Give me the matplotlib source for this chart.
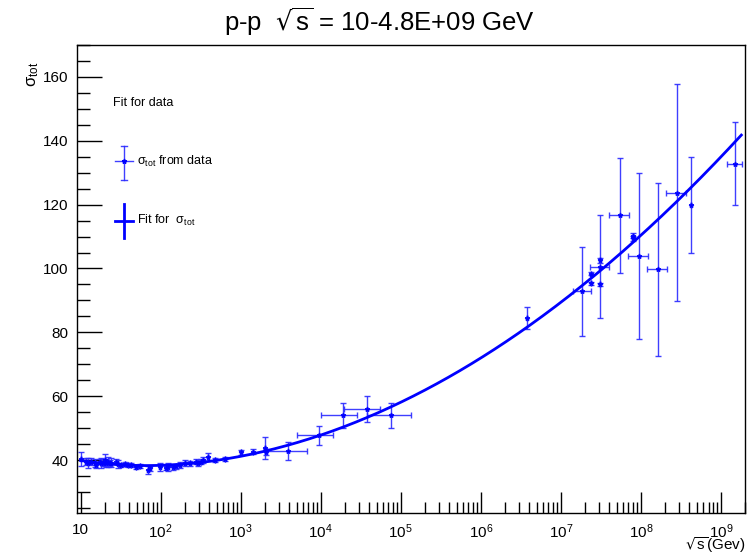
import numpy as np
import matplotlib
matplotlib.use("Agg")
import matplotlib.pyplot as plt
from matplotlib.lines import Line2D
from matplotlib.ticker import FixedLocator, FixedFormatter, MultipleLocator, NullFormatter

# p-p total cross section vs sqrt(s) (GeV)
sqrt_s = [10.0, 11.8, 12.4, 13.6, 15.0, 15.7, 17.3, 18.1, 19.0, 20.0, 20.9, 22.0,
          23.0, 24.2, 27.9, 29.3, 32.2, 35.5, 39.1, 43.0, 49.6, 54.6, 69.5, 72.9,
          97.2, 117.8, 123.5, 142.6, 157.0, 172.8, 199.5, 230.0, 279.0, 293.0,
          322.0, 338.0, 391.0, 473.0, 631.0, 1020.0, 1425.0, 2000.0, 2090.0,
          3870.0, 9441.0, 1.88e4, 3.76e4, 7.5e4, 3.76e6,
          1.83e7, 2.37e7, 2.37e7, 3.07e7, 3.07e7, 3.07e7, 5.47e7, 7.94e7, 7.94e7,
          9.44e7, 1.63e8, 2.82e8, 4.2e8, 1.5e9]
sigma_tot = [40.2, 39.5, 39.0, 39.5, 39.0, 38.4, 39.5, 39.0, 39.2, 40.0, 39.0, 39.3,
             39.0, 39.2, 39.5, 38.7, 38.4, 38.7, 38.4, 38.4, 37.9, 38.2, 36.9, 37.4,
             37.9, 37.4, 37.9, 37.9, 38.1, 38.4, 39.0, 39.0, 39.5, 39.0,
             39.5, 40.0, 41.0, 40.0, 40.2, 42.4, 42.6, 43.8, 42.5,
             42.8, 47.8, 54.0, 55.9, 54.0, 84.5,
             92.8, 98.4, 95.3, 100.6, 102.5, 95.0, 116.6, 110.3, 109.4,
             103.75, 99.7, 123.75, 120.0, 132.8]
sigma_err = [2.2, 1.0, 1.5, 1.0, 1.2, 1.0, 0.8, 1.5, 1.0, 1.8, 1.2, 1.5,
             1.0, 1.5, 0.8, 1.2, 0.7, 0.6, 0.6, 0.6, 0.6, 0.6, 1.2, 0.8,
             1.2, 0.6, 1.2, 1.0, 0.8, 0.9, 1.0, 0.8, 0.7, 1.0,
             0.8, 1.0, 1.2, 0.6, 0.6, 0.8, 0.8, 3.5, 1.0,
             2.8, 3.0, 4.0, 4.0, 4.0, 3.5,
             14.0, 0.6, 0.6, 16.0, 0.8, 0.6, 18.0, 0.8, 0.8,
             26.0, 27.0, 34.0, 15.0, 13.0]
# asymmetric horizontal errors (GeV), zero where none drawn
n_low = 43
xerr_lo = [0.0] * n_low + [1875.0, 4429.0, 8800.0, 1.82e4, 3.74e4, 0.0,
                           4.2e6, 0.0, 0.0, 7.7e6, 0.0, 0.0, 1.49e7, 0.0, 0.0,
                           2.56e7, 4.4e7, 7.7e7, 0.0, 3.1e8]
xerr_hi = [0.0] * n_low + [2813.0, 4684.0, 9400.0, 1.71e4, 5.8e4, 0.0,
                           5.4e6, 0.0, 0.0, 9.1e6, 0.0, 0.0, 1.61e7, 0.0, 0.0,
                           2.8e7, 4.8e7, 8.3e7, 0.0, 3.3e8]

x_major = [10, 1e2, 1e3, 1e4, 1e5, 1e6, 1e7, 1e8, 1e9]
x_labels = ["10", r"$10^{2}$", r"$10^{3}$", r"$10^{4}$", r"$10^{5}$", r"$10^{6}$",
            r"$10^{7}$", r"$10^{8}$", r"$10^{9}$"]

plt.rcParams["font.family"] = ["Liberation Sans", "DejaVu Sans"]
plt.rcParams["mathtext.fontset"] = "custom"
plt.rcParams["mathtext.rm"] = "Liberation Sans"
plt.rcParams["mathtext.it"] = "Liberation Sans"
plt.rcParams["mathtext.default"] = "regular"

W, H = 752, 558
fig = plt.figure(figsize=(W / 100, H / 100), dpi=100)
ax = fig.add_axes([77 / W, 45 / H, 668 / W, 468 / H])

x = np.array(sqrt_s)
y = np.array(sigma_tot)
ey = np.array(sigma_err)

blue = "#0000ff"
ax.errorbar(x, y, yerr=ey, xerr=[xerr_lo, xerr_hi], fmt="*", ms=3.5,
            color=blue, ecolor="#2a2aff", elinewidth=1.0, capsize=2.2, capthick=1.0,
            alpha=0.9, zorder=2)

# weighted fit: sigma = a + b L + c L^2 + d / sqrt(sqrt s), L = ln(sqrt s)
def basis(v):
    lv = np.log(v)
    return np.column_stack([np.ones_like(lv), lv, lv ** 2, v ** -0.5])

A = basis(x) / ey[:, None]
coef, *_ = np.linalg.lstsq(A, y / ey, rcond=None)
x_fit = np.logspace(1, np.log10(1.8e9), 400)
ax.plot(x_fit, basis(x_fit) @ coef, color=blue, lw=2.0, zorder=3)

ax.set_xscale("log")
ax.set_xlim(9.0, 2.0e9)
ax.set_ylim(23.4, 170)

ax.xaxis.set_major_locator(FixedLocator(x_major))
ax.xaxis.set_major_formatter(FixedFormatter(x_labels))
minor = [m * 10.0 ** k for k in range(1, 10) for m in range(2, 10)]
ax.xaxis.set_minor_locator(FixedLocator(minor))
ax.xaxis.set_minor_formatter(NullFormatter())
ax.yaxis.set_major_locator(MultipleLocator(20))
ax.yaxis.set_minor_locator(MultipleLocator(5))

ax.tick_params(axis="both", which="both", direction="in", top=False, right=False,
               labelsize=11, width=1.0)
ax.tick_params(axis="y", which="major", length=18, pad=6)
ax.tick_params(axis="y", which="minor", length=9)
ax.tick_params(axis="x", which="major", length=15, pad=7)
ax.tick_params(axis="x", which="minor", length=8)
for s in ax.spines.values():
    s.set_linewidth(1.0)

# titles and axis labels
fig.text(380 / W, 1 - 22 / H, r"p-p  $\sqrt{s}$ = 10-4.8E+09 GeV", ha="center",
         va="center", fontsize=18.5, math_fontfamily="dejavusans")
fig.text(745 / W, 1 - 545 / H, r"$\sqrt{s}$(Gev)", ha="right", va="center",
         fontsize=11, math_fontfamily="dejavusans")
fig.text(33 / W, 1 - 74 / H, r"$\sigma_{tot}$", ha="center", va="center",
         rotation=90, fontsize=12)

# legend drawn in ROOT style
def fx(px):
    return px / W

def fy(py):
    return 1 - py / H

ebar = dict(color="#2a2aff", lw=1.0, alpha=0.9)
fig.text(fx(113), fy(103), "Fit for data", ha="left", va="center", fontsize=9)
fig.add_artist(Line2D([fx(115), fx(133)], [fy(161), fy(161)], **ebar))
fig.add_artist(Line2D([fx(124), fx(124)], [fy(146), fy(180)], **ebar))
fig.add_artist(Line2D([fx(121), fx(127)], [fy(146), fy(146)], **ebar))
fig.add_artist(Line2D([fx(121), fx(127)], [fy(180), fy(180)], **ebar))
fig.add_artist(Line2D([fx(124)], [fy(161)], color=blue, marker="*", ms=3.5))
fig.text(fx(137), fy(161), r"$\sigma_{tot}$ from data", ha="left", va="center", fontsize=9)
fig.add_artist(Line2D([fx(115), fx(133)], [fy(221), fy(221)], color=blue, lw=2.0))
fig.add_artist(Line2D([fx(124), fx(124)], [fy(204), fy(238)], color=blue, lw=2.0))
fig.text(fx(137), fy(220), r"Fit for  $\sigma_{tot}$", ha="left", va="center", fontsize=9)

fig.savefig("out.png", dpi=100)
